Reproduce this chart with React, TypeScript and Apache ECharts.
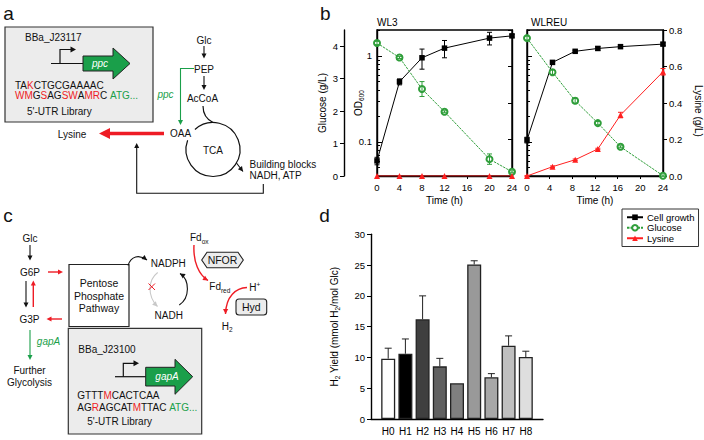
import React, { useEffect, useRef } from 'react';
import * as echarts from 'echarts';

const FONT = 'Liberation Sans, Arial, Helvetica, sans-serif';
const INK = '#111111';
const RED = '#ee1c25';
const GREEN = '#1a9f4a';
const CHART_GREEN = '#2f9e3a';
const CHART_RED = '#ff2020';

// ---------- Panel b data ----------
const wl3Time = [0, 4, 8, 12, 20, 24];
const wl3OD = [0.06, 0.5, 0.95, 1.23, 1.61, 1.71];
const wl3ODErr = [0.006, 0.04, 0.25, 0.28, 0.27, 0.06];
const wl3Glucose = [4.1, 3.65, 2.68, 1.98, 0.52, 0.13];
const wl3GlucoseErr = [0.05, 0.03, 0.23, 0.03, 0.16, 0.03];
const wl3Lysine = [0, 0, 0, 0, 0, 0];
const wl3LysineErr = [0, 0, 0, 0, 0, 0];

const wlreuTime = [0, 4.5, 8.5, 12.5, 16.5, 24];
const wlreuOD = [0.105, 0.84, 1.13, 1.22, 1.28, 1.37];
const wlreuODErr = [0.008, 0.03, 0.03, 0.06, 0.04, 0.05];
const wlreuGlucose = [4.25, 3.2, 2.32, 1.63, 0.9, 0.01];
const wlreuGlucoseErr = [0.06, 0.07, 0.08, 0.05, 0.03, 0.02];
const wlreuLysine = [0, 0.051, 0.089, 0.148, 0.334, 0.571];
const wlreuLysineErr = [0.003, 0.004, 0.004, 0.004, 0.015, 0.018];

const odMajorTicks = [0.1, 1];
const odMinorTicks = [0.04, 0.05, 0.06, 0.07, 0.08, 0.09, 0.2, 0.3, 0.4, 0.5, 0.6, 0.7, 0.8, 0.9, 2];
const glucoseTicks = [0, 1, 2, 3, 4];

// ---------- Panel d data ----------
const strains = ['H0', 'H1', 'H2', 'H3', 'H4', 'H5', 'H6', 'H7', 'H8'];
const h2Yield = [9.8, 10.6, 16.2, 8.55, 5.8, 25.1, 6.77, 11.9, 10.06];
const h2YieldErr = [1.7, 2.4, 3.8, 1.3, 0, 0.6, 0.6, 1.6, 0.95];
const barColors = ['#ffffff', '#000000', '#3f3f3f', '#606060', '#7f7f7f', '#999999', '#a8a8a8', '#bfbfbf', '#dedede'];

// ---------- helpers for the diagram panels ----------
function T(x: number, y: number, text: string, o: any = {}) {
  return {
    type: 'text', x, y, silent: true,
    style: {
      text, fill: o.fill || INK, fontSize: o.size || 10, fontFamily: FONT,
      fontStyle: o.italic ? 'italic' : 'normal', align: o.align || 'center',
      verticalAlign: 'middle', rich: o.rich,
    },
  };
}
function L(points: number[][], stroke = INK, lineWidth = 1) {
  return { type: 'polyline', silent: true, shape: { points }, style: { stroke, lineWidth, fill: 'none' } };
}
function AH(x: number, y: number, ang: number, len: number, hw: number, fill: string) {
  const c = Math.cos(ang), s = Math.sin(ang);
  const bx = x - len * c, by = y - len * s;
  return {
    type: 'polygon', silent: true,
    shape: { points: [[x, y], [bx - hw * s, by + hw * c], [bx + hw * s, by - hw * c]] },
    style: { fill, stroke: 'none' },
  };
}
function arrow(x1: number, y1: number, x2: number, y2: number, color = INK, lw = 1.1, len = 5, hw = 2.5) {
  const a = Math.atan2(y2 - y1, x2 - x1);
  return [L([[x1, y1], [x2 - len * 0.7 * Math.cos(a), y2 - len * 0.7 * Math.sin(a)]], color, lw), AH(x2, y2, a, len, hw, color)];
}
function curve(x1: number, y1: number, c1x: number, c1y: number, c2x: number, c2y: number, x2: number, y2: number, color = INK, lw = 1.1, head = true) {
  const a = Math.atan2(y2 - c2y, x2 - c2x);
  const els: any[] = [{
    type: 'bezierCurve', silent: true,
    shape: { x1, y1, cpx1: c1x, cpy1: c1y, cpx2: c2x, cpy2: c2y, x2, y2 },
    style: { stroke: color, lineWidth: lw, fill: 'none' },
  }];
  if (head) els.push(AH(x2, y2, a, 5, 2.6, color));
  return els;
}

const seqRich = {
  k: { fill: INK, fontSize: 10, fontFamily: FONT },
  r: { fill: RED, fontSize: 10, fontFamily: FONT },
  g: { fill: GREEN, fontSize: 10, fontFamily: FONT },
};
const subRich = {
  a: { fill: INK, fontSize: 10, fontFamily: FONT, lineHeight: 14 },
  s: { fill: INK, fontSize: 6.5, fontFamily: FONT, lineHeight: 8, verticalAlign: 'bottom' },
  p: { fill: INK, fontSize: 6.5, fontFamily: FONT, lineHeight: 8, verticalAlign: 'top' },
};

function diagramElements() {
  const els: any[] = [];
  // panel labels
  els.push(T(3.3, 13.5, 'a', { size: 19, align: 'left' }));
  els.push(T(320, 13.5, 'b', { size: 19, align: 'left' }));
  els.push(T(3.3, 215.5, 'c', { size: 19, align: 'left' }));
  els.push(T(319.3, 215.5, 'd', { size: 19, align: 'left' }));

  // ----- panel a -----
  els.push({ type: 'rect', silent: true, shape: { x: 5, y: 27, width: 148, height: 95 }, style: { fill: '#ececec', stroke: '#333', lineWidth: 1.2 } });
  els.push(T(25, 37, 'BBa_J23117', { align: 'left' }));
  els.push(L([[51, 63.5], [84, 63.5]], INK, 1.2));
  els.push(L([[60, 63.5], [60, 49.5], [71, 49.5]], INK, 1.2));
  els.push(AH(76, 49.5, 0, 5.5, 3, INK));
  els.push({ type: 'polygon', silent: true, shape: { points: [[83, 56], [113, 56], [113, 48], [130, 63.5], [113, 79], [113, 71], [83, 71]] }, style: { fill: GREEN, stroke: '#222', lineWidth: 1 } });
  els.push(T(100, 63.5, 'ppc', { italic: true, fill: '#ffffff' }));
  els.push(T(15, 85, '{k|TA}{r|K}{k|CTGCGAAAAC}', { align: 'left', rich: seqRich }));
  els.push(T(15, 95, '{r|WM}{k|G}{r|S}{k|AG}{r|SW}{k|A}{r|MR}{k|C }{g|ATG...}', { align: 'left', rich: seqRich }));
  els.push(T(27, 111, "5'-UTR Library", { align: 'left' }));

  els.push(T(204, 40, 'Glc'));
  els.push(...arrow(204, 46, 204, 58.5));
  els.push(T(204, 69.5, 'PEP'));
  els.push(...arrow(204, 76, 204, 90));
  els.push(T(202.5, 98.5, 'AcCoA'));
  els.push(L([[194, 68.5], [180.5, 68.5], [180.5, 121]], GREEN, 1.1));
  els.push(AH(180.5, 125, Math.PI / 2, 5, 2.5, GREEN));
  els.push(T(165.5, 94, 'ppc', { italic: true, fill: GREEN }));
  els.push(T(180.5, 133, 'OAA'));
  els.push(L([[164, 133.5], [106, 133.5]], RED, 3.5));
  els.push(AH(99, 133.5, Math.PI, 11, 5.5, RED));
  els.push(T(72, 134.5, 'Lysine'));
  els.push({ type: 'arc', silent: true, shape: { cx: 213, cy: 149.5, r: 27, startAngle: (228 * Math.PI) / 180, endAngle: (560 * Math.PI) / 180, clockwise: true }, style: { stroke: INK, lineWidth: 1.2, fill: 'none' } });
  els.push(T(213, 150, 'TCA'));
  els.push(...curve(203, 106, 203, 114, 207, 119.5, 213, 122.5, INK, 1.2, false));
  els.push(...curve(236.5, 163, 238, 165, 239.5, 167, 243, 171.5, INK, 1.1, true));
  els.push(T(249.5, 164.5, 'Building blocks', { align: 'left' }));
  els.push(T(249.5, 175.5, 'NADH, ATP', { align: 'left' }));
  els.push(L([[263.3, 184], [263.3, 193.3], [136.7, 193.3], [136.7, 147]], INK, 1.1));
  els.push(AH(136.7, 143, -Math.PI / 2, 5, 2.5, INK));

  // ----- panel c -----
  els.push(T(30, 238.5, 'Glc'));
  els.push(...arrow(30, 245, 30, 260.5));
  els.push(T(30, 272, 'G6P'));
  els.push(...arrow(26, 281, 26, 307.5));
  els.push(...arrow(33.3, 307, 33.3, 280.5, RED, 1.4));
  els.push(T(29.5, 319, 'G3P'));
  els.push(...arrow(48, 272, 63, 272, RED, 1.4));
  els.push(...arrow(62, 319, 46.5, 319, RED, 1.4));
  els.push({ type: 'rect', silent: true, shape: { x: 69, y: 264.5, width: 60, height: 62 }, style: { fill: '#ffffff', stroke: '#222', lineWidth: 1.2 } });
  els.push(T(99, 283.3, 'Pentose', { size: 10.5 }));
  els.push(T(99, 296, 'Phosphate', { size: 10.5 }));
  els.push(T(99, 308.3, 'Pathway', { size: 10.5 }));
  els.push(...curve(128, 265.5, 131, 256, 139, 254, 147, 260));
  els.push(T(168.3, 263, 'NADPH'));
  els.push(T(168.7, 315, 'NADH'));
  els.push(...curve(157.7, 272.5, 148, 280, 147, 296, 157.5, 306.5, '#c8c8c8'));
  els.push(L([[148.5, 283.5], [155, 290]], RED, 1));
  els.push(L([[155, 283.5], [148.5, 290]], RED, 1));
  els.push(...curve(179.3, 305, 190, 298, 190, 280, 180, 273.5));
  els.push(T(190, 237.5, '{a|Fd}{s|ox}', { align: 'left', rich: subRich }));
  els.push(...curve(194, 245, 193, 262, 199, 275, 208, 280.5, RED, 1.4));
  els.push(T(209.3, 286.7, '{a|Fd}{s|red}', { align: 'left', rich: subRich }));
  els.push({ type: 'polygon', silent: true, shape: { points: [[201.7, 260], [207, 252.3], [238, 252.3], [243.3, 260], [238, 267.7], [207, 267.7]] }, style: { fill: '#ececec', stroke: '#222', lineWidth: 1.1 } });
  els.push(T(222.5, 260, 'NFOR', { size: 10.5 }));
  els.push(T(249.3, 287.7, '{a|H}{p|+}', { align: 'left', rich: subRich }));
  els.push(...curve(247, 287.5, 236, 288, 226, 296, 225.5, 314, RED, 1.4));
  els.push(T(221.7, 326, '{a|H}{s|2}', { align: 'left', rich: subRich }));
  els.push({ type: 'rect', silent: true, shape: { x: 236, y: 299, width: 30.7, height: 16, r: 3 }, style: { fill: '#ececec', stroke: '#222', lineWidth: 1.1 } });
  els.push(T(251.3, 307, 'Hyd', { size: 10.5 }));
  els.push(...arrow(30, 330, 30, 360, GREEN, 1.1));
  els.push(T(48.5, 341.7, 'gapA', { italic: true, fill: GREEN }));
  els.push(T(29.5, 370, 'Further'));
  els.push(T(29.5, 382, 'Glycolysis'));
  els.push({ type: 'rect', silent: true, shape: { x: 68.3, y: 328.3, width: 133.4, height: 105.7 }, style: { fill: '#ececec', stroke: '#333', lineWidth: 1.2 } });
  els.push(T(78.3, 349, 'BBa_J23100', { align: 'left' }));
  els.push(L([[115, 376.7], [146, 376.7]], INK, 1.2));
  els.push(L([[123.3, 376.7], [123.3, 363.3], [134, 363.3]], INK, 1.2));
  els.push(AH(139, 363.3, 0, 5.5, 3, INK));
  els.push({ type: 'polygon', silent: true, shape: { points: [[145.7, 367.3], [175, 367.3], [175, 359.3], [192.7, 376.7], [175, 394.3], [175, 386], [145.7, 386]] }, style: { fill: GREEN, stroke: '#222', lineWidth: 1 } });
  els.push(T(167, 376.7, 'gapA', { italic: true, fill: '#ffffff' }));
  els.push(T(77.3, 395, '{k|GTTT}{r|M}{k|CACTCAA}', { align: 'left', rich: seqRich }));
  els.push(T(77.3, 407.5, '{k|AG}{r|R}{k|AGCAT}{r|M}{k|TTAC }{g|ATG...}', { align: 'left', rich: seqRich }));
  els.push(T(87.3, 421.7, "5'-UTR Library", { align: 'left' }));
  return els;
}

// ---------- chart helpers ----------
const lbl = { color: '#000', fontSize: 9.5, fontFamily: FONT };
const axLine = { show: true, onZero: false, lineStyle: { color: '#000', width: 1.4 } };

function errSeries(xi: number, yi: number, t: number[], v: number[], e: number[], color: string, cap = 2.5, upOnly = false) {
  return {
    type: 'custom', xAxisIndex: xi, yAxisIndex: yi, silent: true, z: 3,
    data: t.map((x, i) => [x, v[i], e[i]]),
    encode: { x: 0, y: 1 },
    renderItem: (_p: any, api: any) => {
      const x = api.value(0), y = api.value(1), d = api.value(2);
      if (!d) return null;
      const lo = api.coord([x, upOnly ? y : y - d]);
      const hi = api.coord([x, y + d]);
      const st = { stroke: color, lineWidth: 1 };
      const children: any[] = [
        { type: 'line', shape: { x1: hi[0], y1: lo[1], x2: hi[0], y2: hi[1] }, style: st },
        { type: 'line', shape: { x1: hi[0] - cap, y1: hi[1], x2: hi[0] + cap, y2: hi[1] }, style: st },
      ];
      if (!upOnly) children.push({ type: 'line', shape: { x1: lo[0] - cap, y1: lo[1], x2: lo[0] + cap, y2: lo[1] }, style: st });
      return { type: 'group', children };
    },
  };
}

function lineSeries(name: string, xi: number, yi: number, t: number[], v: number[], kind: 'od' | 'glc' | 'lys') {
  const color = kind === 'od' ? '#000' : kind === 'glc' ? CHART_GREEN : CHART_RED;
  return {
    name, type: 'line', xAxisIndex: xi, yAxisIndex: yi,
    data: t.map((x, i) => [x, v[i]]),
    symbol: kind === 'od' ? 'rect' : kind === 'glc' ? 'emptyCircle' : 'triangle',
    symbolSize: kind === 'od' ? 5.5 : 6,
    itemStyle: { color, borderColor: color, borderWidth: kind === 'glc' ? 1 : 0 },
    lineStyle: { color, width: 1, type: kind === 'glc' ? [2.5, 1] : 'solid' },
    z: 2,
  };
}

function buildOption() {
  const timeAxis = (g: number) => ({
    type: 'value', gridIndex: g, min: 0, max: 24, interval: 4,
    axisLine: axLine, axisTick: { show: true, length: 3, lineStyle: { color: '#000' } },
    axisLabel: { ...lbl, margin: 6 }, splitLine: { show: false },
    name: 'Time (h)', nameLocation: 'middle', nameGap: 19, nameMoveOverlap: false,
    nameTextStyle: { color: '#000', fontSize: 10, fontFamily: FONT },
  });
  const odAxis = (g: number, labels: boolean, named: boolean) => ({
    type: 'log', gridIndex: g, position: 'left', min: 0.04, max: 2, logBase: 10,
    axisLine: axLine,
    axisTick: { show: true, inside: true, length: 5, customValues: odMajorTicks, lineStyle: { color: '#000' } },
    axisLabel: {
      show: labels, ...lbl, margin: 5, customValues: odMajorTicks,
      formatter: (v: number) => (Math.abs(v - 1) < 1e-6 ? '1' : Math.abs(v - 0.1) < 1e-6 ? '0.1' : ''),
    },
    splitLine: { show: false }, minorTick: { show: false },
    name: named ? '{a|OD}{b|600}' : '', nameLocation: 'middle', nameGap: 12, nameMoveOverlap: false,
    nameTextStyle: {
      rich: {
        a: { color: '#000', fontSize: 10, fontFamily: FONT, lineHeight: 14 },
        b: { color: '#000', fontSize: 6.5, fontFamily: FONT, lineHeight: 8, verticalAlign: 'bottom' },
      },
    },
  });
  const odMinorAxis = (g: number) => ({
    type: 'log', gridIndex: g, position: 'left', min: 0.04, max: 2, logBase: 10,
    axisLine: { show: false },
    axisTick: { show: true, inside: true, length: 3, customValues: odMinorTicks, lineStyle: { color: '#000' } },
    axisLabel: { show: false }, splitLine: { show: false },
  });

  return {
    animation: false,
    backgroundColor: '#ffffff',
    textStyle: { fontFamily: FONT },
    title: [
      { text: 'WL3', left: 377, top: 17, padding: 0, textStyle: { fontSize: 10, fontWeight: 'normal', color: '#000', fontFamily: FONT } },
      { text: 'WLREU', left: 531, top: 17, padding: 0, textStyle: { fontSize: 10, fontWeight: 'normal', color: '#000', fontFamily: FONT } },
    ],
    legend: {
      data: ['Cell growth', 'Glucose', 'Lysine'], left: 622, top: 209, orient: 'vertical',
      itemWidth: 16, itemHeight: 7, itemGap: 0, padding: [3, 4, 3, 4],
      borderColor: '#333', borderWidth: 1, selectedMode: false,
      textStyle: { fontSize: 9.5, fontFamily: FONT, color: '#000', lineHeight: 10.5, padding: [0, 0, 0, -1] },
    },
    grid: [
      { left: 377, top: 30, width: 135, height: 146, show: true, borderColor: '#000', borderWidth: 1.4, backgroundColor: 'transparent' },
      { left: 527, top: 30, width: 137, height: 146, show: true, borderColor: '#000', borderWidth: 1.4, backgroundColor: 'transparent' },
      { left: 371, top: 234.3, width: 172, height: 184.7, show: false },
    ],
    xAxis: [
      timeAxis(0),
      timeAxis(1),
      {
        type: 'value', gridIndex: 2, min: -1, max: 9, interval: 1,
        axisLine: axLine, axisTick: { show: false },
        axisLabel: {
          color: '#000', fontSize: 10, fontFamily: FONT, margin: 7,
          customValues: strains.map((_, i) => i),
          formatter: (v: number) => strains[Math.round(v)] ?? '',
        },
        splitLine: { show: false },
      },
    ],
    yAxis: [
      odAxis(0, true, true), // 0
      odMinorAxis(0), // 1
      { // 2 glucose (WL3)
        type: 'value', gridIndex: 0, position: 'left', offset: 33, min: 0, max: 4.5, interval: 1,
        axisLine: axLine,
        axisTick: { show: true, length: 4, customValues: glucoseTicks, lineStyle: { color: '#000' } },
        axisLabel: { ...lbl, margin: 6, customValues: glucoseTicks, formatter: (v: number) => (v > 4.2 ? '' : String(v)) },
        splitLine: { show: false },
        name: 'Glucose (g/L)', nameLocation: 'middle', nameGap: 17, nameMoveOverlap: false,
        nameTextStyle: { color: '#000', fontSize: 10, fontFamily: FONT },
      },
      { // 3 lysine ticks (WL3)
        type: 'value', gridIndex: 0, position: 'right', min: 0, max: 0.8, interval: 0.2,
        axisLine: axLine, axisTick: { show: true, inside: true, length: 4, lineStyle: { color: '#000' } },
        axisLabel: { show: false }, splitLine: { show: false },
      },
      odAxis(1, false, false), // 4
      odMinorAxis(1), // 5
      { type: 'value', gridIndex: 1, min: 0, max: 4.5, show: false, splitLine: { show: false } }, // 6
      { // 7 lysine (WLREU)
        type: 'value', gridIndex: 1, position: 'right', min: 0, max: 0.8, interval: 0.2,
        axisLine: axLine, axisTick: { show: true, length: 4, lineStyle: { color: '#000' } },
        axisLabel: { ...lbl, margin: 6, formatter: (v: number) => v.toFixed(1) }, splitLine: { show: false },
        name: 'Lysine (g/L)', nameLocation: 'middle', nameRotate: -90, nameGap: 30, nameMoveOverlap: false,
        nameTextStyle: { color: '#000', fontSize: 10, fontFamily: FONT, padding: [0, 0, 0, 16] },
      },
      { // 8 H2 yield
        type: 'value', gridIndex: 2, min: 0, max: 30, interval: 5,
        axisLine: axLine, axisTick: { show: true, length: 4, lineStyle: { color: '#000' } },
        axisLabel: { ...lbl, margin: 6 }, splitLine: { show: false },
        name: '{a|H}{b|2}{a| Yield (mmol H}{b|2}{a|/mol Glc)}', nameLocation: 'middle', nameGap: 30, nameMoveOverlap: false,
        nameTextStyle: {
          rich: {
            a: { color: '#000', fontSize: 10, fontFamily: FONT, lineHeight: 14 },
            b: { color: '#000', fontSize: 6.5, fontFamily: FONT, lineHeight: 8, verticalAlign: 'bottom' },
          },
        },
      },
    ],
    series: [
      lineSeries('Cell growth', 0, 0, wl3Time, wl3OD, 'od'),
      lineSeries('Glucose', 0, 2, wl3Time, wl3Glucose, 'glc'),
      lineSeries('Lysine', 0, 3, wl3Time, wl3Lysine, 'lys'),
      lineSeries('Cell growth', 1, 4, wlreuTime, wlreuOD, 'od'),
      lineSeries('Glucose', 1, 6, wlreuTime, wlreuGlucose, 'glc'),
      lineSeries('Lysine', 1, 7, wlreuTime, wlreuLysine, 'lys'),
      errSeries(0, 0, wl3Time, wl3OD, wl3ODErr, '#000'),
      errSeries(0, 2, wl3Time, wl3Glucose, wl3GlucoseErr, CHART_GREEN),
      errSeries(0, 3, wl3Time, wl3Lysine, wl3LysineErr, CHART_RED),
      errSeries(1, 4, wlreuTime, wlreuOD, wlreuODErr, '#000'),
      errSeries(1, 6, wlreuTime, wlreuGlucose, wlreuGlucoseErr, CHART_GREEN),
      errSeries(1, 7, wlreuTime, wlreuLysine, wlreuLysineErr, CHART_RED),
      {
        name: 'H2 yield', type: 'bar', xAxisIndex: 2, yAxisIndex: 8, barWidth: 14,
        data: strains.map((_, i) => ({ value: [i, h2Yield[i]], itemStyle: { color: barColors[i], borderColor: '#222', borderWidth: 1.3 } })),
      },
      errSeries(2, 8, strains.map((_, i) => i), h2Yield, h2YieldErr, '#222', 3.5, true),
    ],
    graphic: { elements: diagramElements() },
  };
}

export default function App() {
  const ref = useRef<HTMLDivElement>(null);
  useEffect(() => {
    if (!ref.current) return;
    const chart = echarts.init(ref.current, undefined, { renderer: 'svg' });
    chart.setOption(buildOption() as any);
    return () => chart.dispose();
  }, []);
  return <div ref={ref} style={{ position: 'fixed', left: 0, top: 0, width: 704, height: 440, background: '#fff' }} />;
}
